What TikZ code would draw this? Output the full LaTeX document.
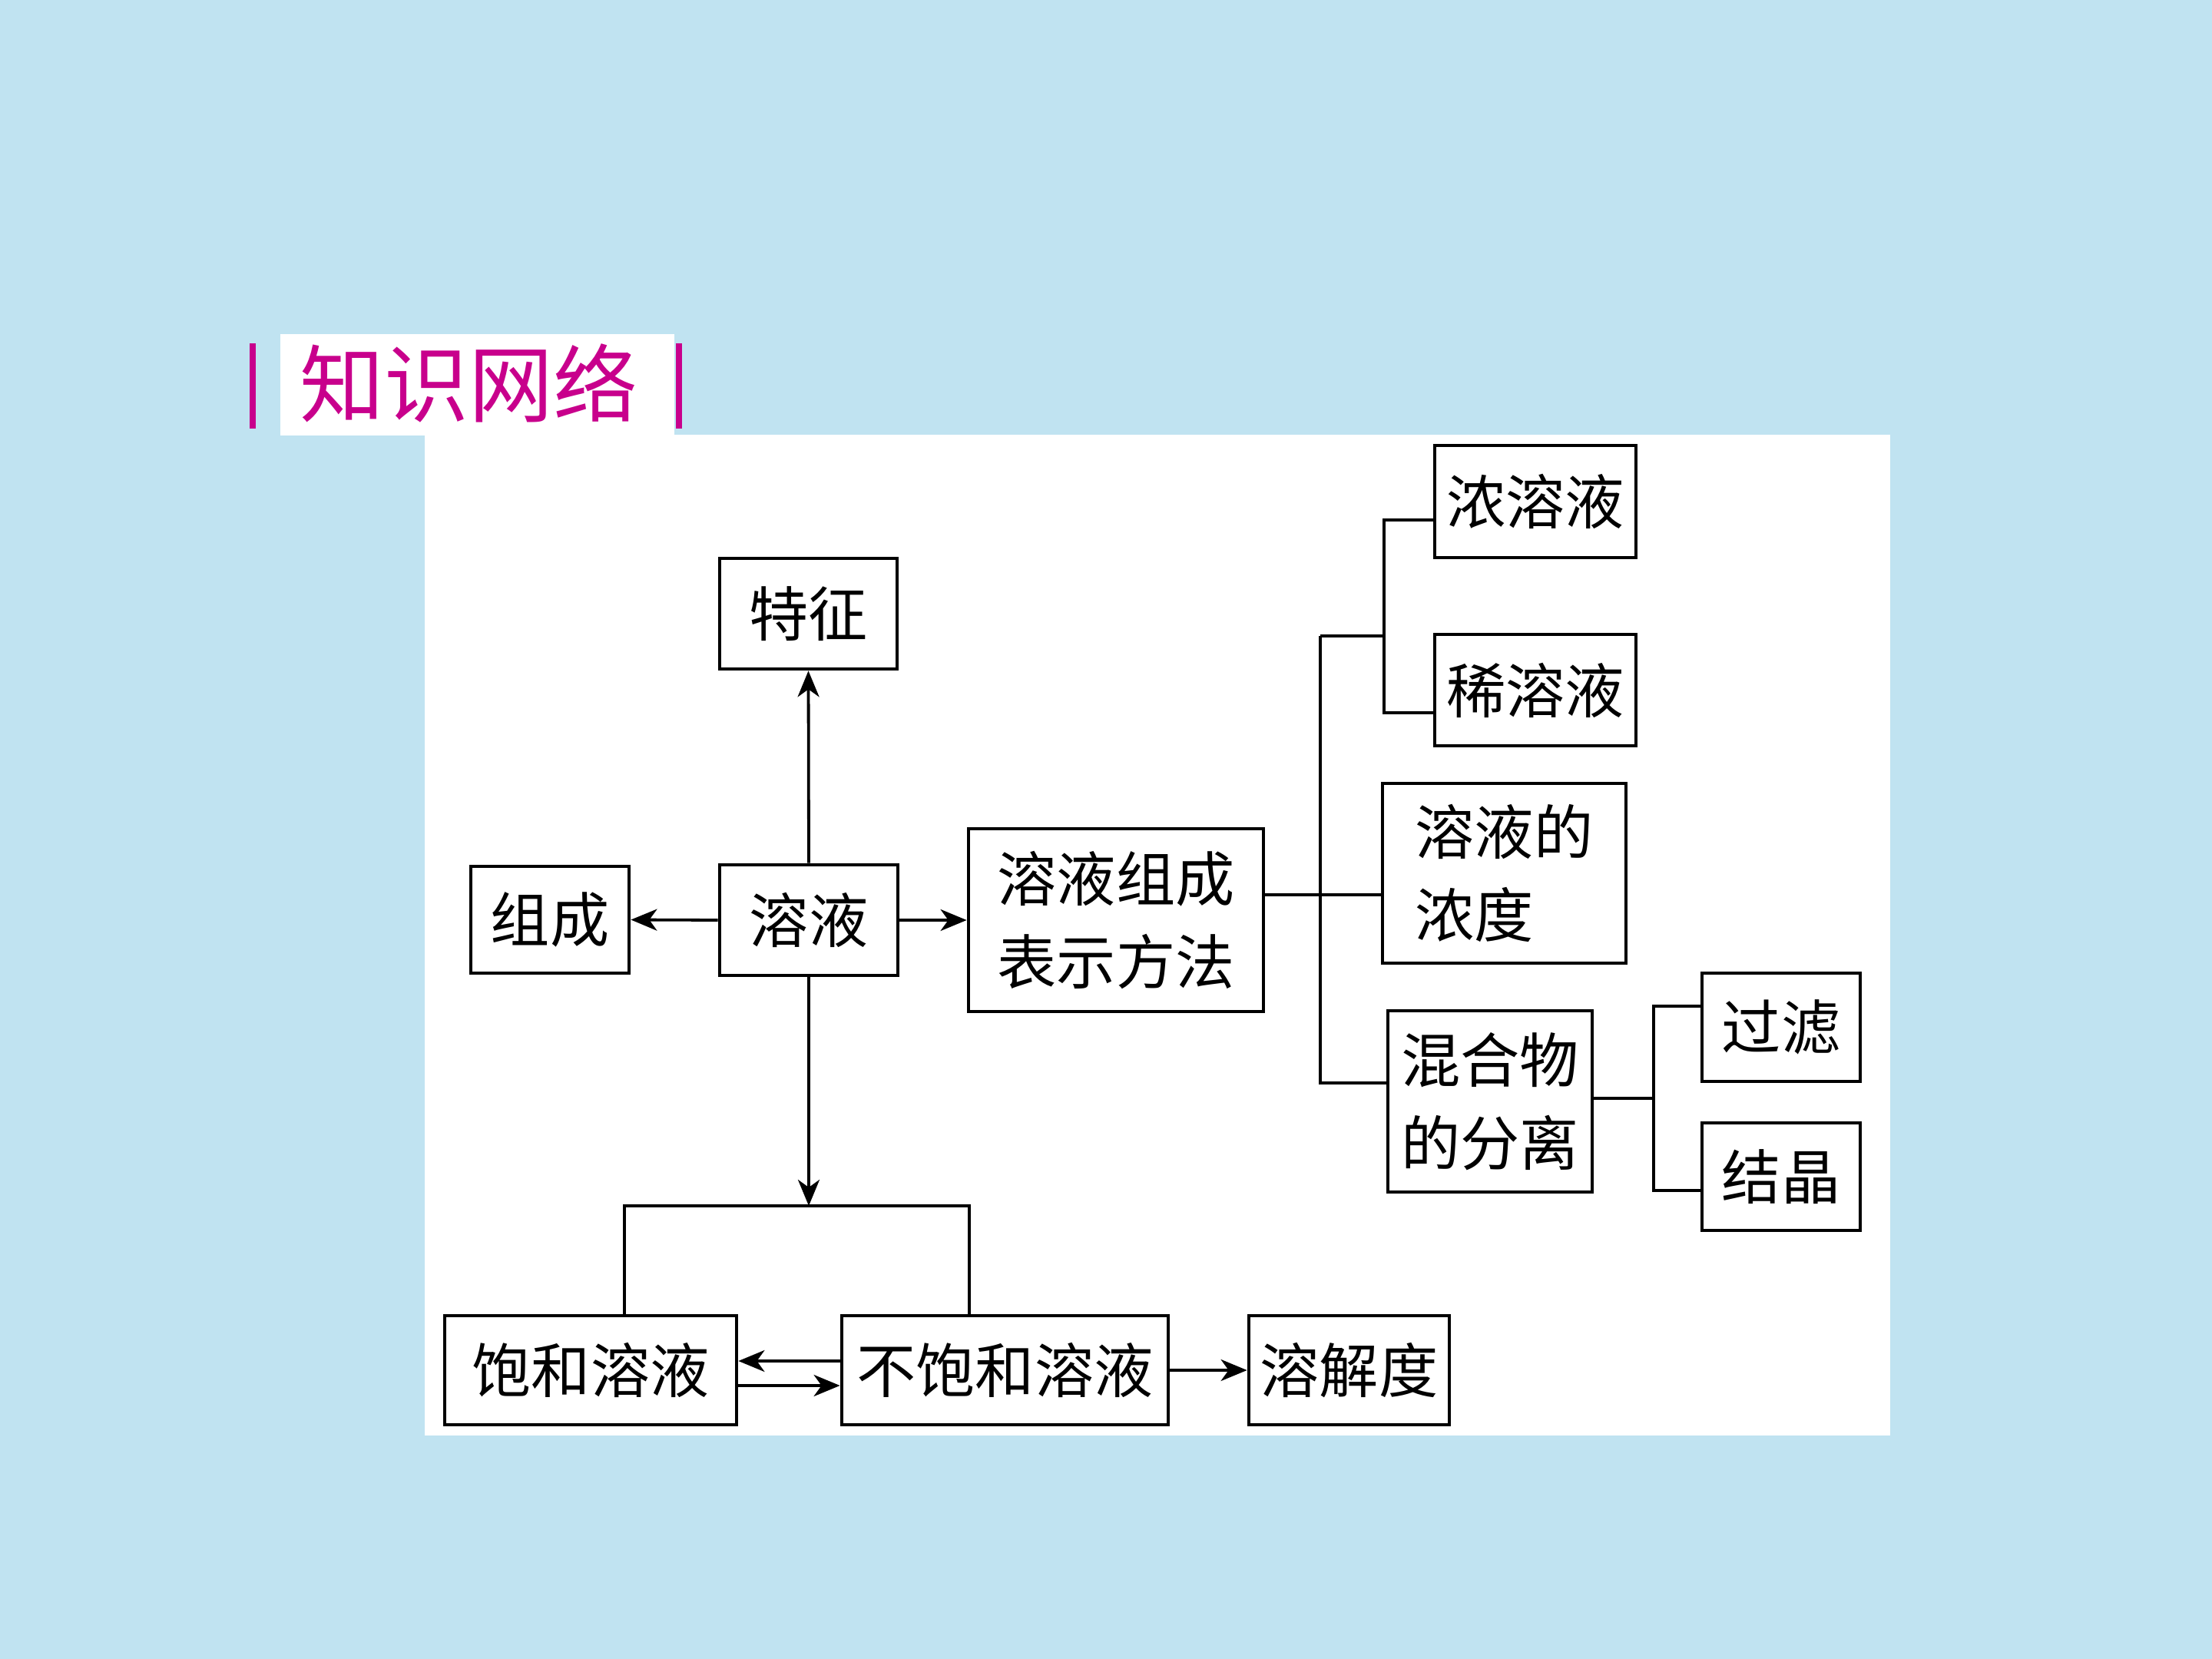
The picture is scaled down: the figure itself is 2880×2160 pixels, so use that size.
\documentclass[tikz,border=0pt]{standalone}
\usepackage{fontspec}
\newfontfamily\cjk{Noto Sans CJK SC}
\usetikzlibrary{arrows.meta}
\definecolor{bgblue}{RGB}{192,227,241}
\definecolor{titlemag}{RGB}{200,0,140}
\tikzset{
  box/.style={draw=black, line width=1.2pt, fill=white, inner sep=0pt, align=center,
    font=\cjk\fontsize{19.3}{27}\selectfont},
  conn/.style={draw=black, line width=0.95pt},
  arr/.style={conn, -{Stealth[length=8.5pt,width=7pt,inset=2.5pt]}},
}
\begin{document}
\begin{tikzpicture}[x=0.25pt,y=-0.25pt]
% background and panels
\fill[bgblue] (0,0) rectangle (2880,2160);
\useasboundingbox (0,0) rectangle (2880,2160);
\fill[white] (365,435) rectangle (878,567);
\fill[white] (553,566) rectangle (2461,1869);
\fill[titlemag] (325,447) rectangle (333,558);
\fill[titlemag] (880,447) rectangle (888,558);
\node[font=\cjk\fontsize{27.5}{30}\selectfont, text=titlemag, inner sep=0pt] (title) at (610,499) {知识网络};
% boxes
\node[box, minimum width=231*0.25pt, minimum height=144*0.25pt] (tezheng) at (1052.5,799) {特征};
\node[box, minimum width=206*0.25pt, minimum height=139*0.25pt] (zucheng) at (716,1197.5) {组成};
\node[box, minimum width=232*0.25pt, minimum height=144*0.25pt] (rongye) at (1053,1198) {溶液};
\node[box, minimum width=384*0.25pt, minimum height=238*0.25pt] (fangfa) at (1453,1198) {溶液组成\\表示方法};
\node[box, minimum width=262*0.25pt, minimum height=146*0.25pt] (nong) at (1999,653) {浓溶液};
\node[box, minimum width=262*0.25pt, minimum height=145*0.25pt] (xi) at (1999,898.5) {稀溶液};
\node[box, align=left, minimum width=317*0.25pt, minimum height=234*0.25pt] (nongdu) at (1958.5,1137) {溶液的\\浓度\hphantom{溶}};
\node[box, minimum width=266*0.25pt, minimum height=236*0.25pt] (hunhe) at (1940,1434) {混合物\\的分离};
\node[box, minimum width=206*0.25pt, minimum height=141*0.25pt] (guolv) at (2319,1337.5) {过滤};
\node[box, minimum width=206*0.25pt, minimum height=140*0.25pt] (jiejing) at (2319,1532) {结晶};
\node[box, minimum width=380*0.25pt, minimum height=142*0.25pt] (baohe) at (769,1784) {饱和溶液};
\node[box, minimum width=425*0.25pt, minimum height=142*0.25pt] (bubaohe) at (1308.5,1784) {不饱和溶液};
\node[box, minimum width=261*0.25pt, minimum height=142*0.25pt] (rongjie) at (1756.5,1784) {溶解度};
% helper coordinates
\coordinate (hl) at (813,1570);
\coordinate (hr) at (1262,1570);
\coordinate (b1) at (1719,1165);
\coordinate (t1) at (1719,828);
\coordinate (t2) at (1719,1410);
\coordinate (u1) at (1802,677);
\coordinate (u2) at (1802,928);
\coordinate (v0) at (2153,1430);
\coordinate (v1) at (2153,1310);
\coordinate (v2) at (2153,1550);
\coordinate (a1) at (0,1772);
\coordinate (a2) at (0,1804);
% connectors
\draw[arr] (rongye.north) -- (tezheng.south);
\draw[arr] (rongye.west) -- (zucheng.east);
\draw[arr] (rongye.east) -- (fangfa.west);
\draw[arr] (rongye.south) -- (rongye.south |- hl);
\draw[conn] (baohe.north -| hl) -- (hl) -- (hr) -- (bubaohe.north -| hr);
\draw[conn] (fangfa.east |- b1) -- (nongdu.west |- b1);
\draw[conn] (t1) -- (t2) -- (hunhe.west |- t2);
\draw[conn] (t1) -- (t1 -| u1);
\draw[conn] (nong.west |- u1) -- (u1) -- (u2) -- (xi.west |- u2);
\draw[conn] (hunhe.east |- v0) -- (v0);
\draw[conn] (guolv.west |- v1) -- (v1) -- (v2) -- (jiejing.west |- v2);
\draw[arr] (bubaohe.west |- a1) -- (baohe.east |- a1);
\draw[arr] (baohe.east |- a2) -- (bubaohe.west |- a2);
\draw[arr] (bubaohe.east) -- (rongjie.west);
\end{tikzpicture}
\end{document}
